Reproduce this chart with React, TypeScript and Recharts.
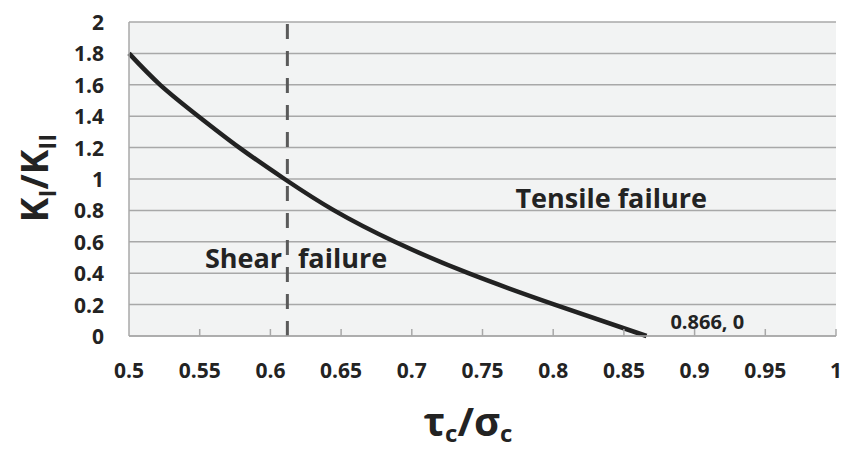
import { LineChart, Line, XAxis, YAxis, CartesianGrid, ReferenceLine, ReferenceDot } from "recharts";

// tau_c / sigma_c vs K_I / K_II
const tauRatio = [0.5, 0.522, 0.549, 0.578, 0.61, 0.645, 0.688, 0.74, 0.801, 0.866];
const kRatio = [1.8, 1.6, 1.4, 1.2, 1.0, 0.8, 0.6, 0.4, 0.2, 0];

const xTicks = [0.5, 0.55, 0.6, 0.65, 0.7, 0.75, 0.8, 0.85, 0.9, 0.95, 1];
const yTicks = [0, 0.2, 0.4, 0.6, 0.8, 1, 1.2, 1.4, 1.6, 1.8, 2];

const shearLimit = 0.612;

const curve = tauRatio.map((t, i) => ({ t, k: kRatio[i] }));

const FONT = "'Open Sans', Lato, sans-serif";
const INK = "#232323";
const GRID = "#a8a8a8";

const fmt = (v: number) => String(Number(v.toFixed(2)));

function XTick({ x, y, payload }: any) {
  return (
    <g>
      {payload.value > 0.5 && <line x1={x} x2={x} y1={y} y2={y - 7} stroke={GRID} strokeWidth={1.5} />}
      <text x={x} y={y + 34} textAnchor="middle" dominantBaseline="central"
        fontFamily={FONT} fontWeight={700} fontSize={21} fill={INK}>
        {fmt(payload.value)}
      </text>
    </g>
  );
}

function YTick({ x, y, payload }: any) {
  return (
    <text x={x} y={y} textAnchor="end" dominantBaseline="central"
      fontFamily={FONT} fontWeight={700} fontSize={21} fill={INK}>
      {fmt(payload.value)}
    </text>
  );
}

function TextLabel(text: string, size: number) {
  return ({ viewBox }: any) => (
    <text x={viewBox.x + viewBox.width / 2} y={viewBox.y + viewBox.height / 2}
      textAnchor="middle" dominantBaseline="central"
      fontFamily={FONT} fontWeight={700} fontSize={size} fill={INK}>
      {text}
    </text>
  );
}

export default function App() {
  return (
    <div style={{ position: "absolute", left: 0, top: 0, width: 844, height: 453, background: "#fff" }}>
      <LineChart width={844} height={453} data={curve} margin={{ top: 22, right: 8, left: 0, bottom: 0 }}>
        <CartesianGrid vertical={false} stroke={GRID} strokeWidth={1.5} fill="#f2f3f3" />
        <XAxis dataKey="t" type="number" domain={[0.5, 1]} ticks={xTicks} interval={0}
          height={117} tickSize={0} tickMargin={0} tickLine={false}
          axisLine={{ stroke: GRID, strokeWidth: 1.5 }} tick={<XTick />} />
        <YAxis type="number" domain={[0, 2]} ticks={yTicks} interval={0} width={129}
          tickSize={0} tickMargin={25} tickLine={false}
          axisLine={{ stroke: GRID, strokeWidth: 1.5 }} tick={<YTick />} />
        <ReferenceLine x={shearLimit} stroke="#5a5a5a" strokeWidth={3} strokeDasharray="15 12" />
        <Line dataKey="k" type="natural" stroke="#222" strokeWidth={4.5} dot={false} isAnimationActive={false} />
        <ReferenceDot x={0.841} y={0.88} r={0} label={TextLabel("Tensile failure", 27)} />
        <ReferenceDot x={0.581} y={0.5} r={0} label={TextLabel("Shear", 27)} />
        <ReferenceDot x={0.651} y={0.5} r={0} label={TextLabel("failure", 27)} />
        <ReferenceDot x={0.909} y={0.095} r={0} label={TextLabel("0.866, 0", 20)} />
      </LineChart>
      <svg width={844} height={453} style={{ position: "absolute", left: 0, top: 0, pointerEvents: "none" }}>
        <text transform="translate(48,178) rotate(-90)" textAnchor="middle"
          fontFamily={FONT} fontWeight={700} fontSize={37} fill={INK}>
          K<tspan fontSize={24} dy={8}>I</tspan><tspan dy={-8}>/K</tspan><tspan fontSize={24} dy={8}>II</tspan>
        </text>
        <text x={468} y={436} textAnchor="middle" fontFamily={FONT} fontWeight={700} fontSize={40} fill={INK}>
          τ<tspan fontSize={24} dy={6}>c</tspan><tspan dy={-6}>/σ</tspan><tspan fontSize={24} dy={6}>c</tspan>
        </text>
      </svg>
    </div>
  );
}
